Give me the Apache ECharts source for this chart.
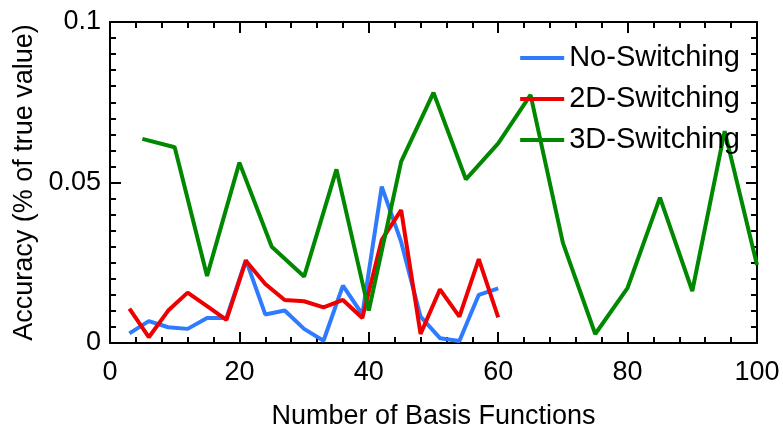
<!DOCTYPE html>
<html>
<head>
<meta charset="utf-8">
<script src="https://cdn.jsdelivr.net/npm/echarts@6/dist/echarts.min.js"></script>
<style>
  html, body { margin: 0; padding: 0; background: #fff; }
  #main { width: 783px; height: 426px; }
</style>
</head>
<body>
<div id="main"></div>
<script>
// x positions
const xNoSwitch = [3, 6, 9, 12, 15, 18, 21, 24, 27, 30, 33, 36, 39, 42, 45, 48, 51, 54, 57, 60];
const x3D = [5, 10, 15, 20, 25, 30, 35, 40, 45, 50, 55, 60, 65, 70, 75, 80, 85, 90, 95, 100];

// accuracy values (% of true value)
const noSwitching = [0.0030, 0.0068, 0.0049, 0.0044, 0.0078, 0.0078, 0.0259, 0.0089, 0.0101, 0.0044,
                     0.0007, 0.0179, 0.0089, 0.0487, 0.0315, 0.0082, 0.0015, 0.0006, 0.0150, 0.0170];
const switching2D = [0.0107, 0.0018, 0.0101, 0.0157, 0.0115, 0.0072, 0.0256, 0.0184, 0.0134, 0.0130,
                     0.0111, 0.0134, 0.0078, 0.0321, 0.0414, 0.0028, 0.0167, 0.0082, 0.0261, 0.0080];
const switching3D = [0.0636, 0.0610, 0.0209, 0.0562, 0.0300, 0.0207, 0.0541, 0.0101, 0.0565, 0.0780,
                     0.0510, 0.0622, 0.0773, 0.0312, 0.0028, 0.0172, 0.0453, 0.0162, 0.0660, 0.0243];

const seriesNames = ['No-Switching', '2D-Switching', '3D-Switching'];
const colors = ['#2f7bff', '#ee0000', '#008800'];

const font = 'Liberation Sans, Arial, sans-serif';

function pairs(xs, ys) {
    return xs.map((x, i) => [x, ys[i]]);
}

// box frame: onZero off so the top/right copies stay on the edges
const axisLine = { show: true, onZero: false, lineStyle: { color: '#000', width: 2 } };
const majorTick = { show: true, inside: true, length: 11, lineStyle: { color: '#000', width: 2 } };
const xMinor = { show: true, splitNumber: 5, length: 6, lineStyle: { color: '#000', width: 2 } };
const yMinor = { show: true, splitNumber: 10, length: 6, lineStyle: { color: '#000', width: 2 } };

const chart = echarts.init(document.getElementById('main'));

chart.setOption({
    animation: false,
    backgroundColor: '#fff',
    color: colors,
    grid: { left: 110, right: 26, top: 22, bottom: 83, containLabel: false, outerBoundsMode: 'none' },
    legend: {
        data: seriesNames.map(n => ({ name: n, icon: 'rect' })),
        orient: 'vertical',
        right: 38,
        top: 38,
        itemWidth: 44,
        itemHeight: 4,
        itemGap: 11,
        textStyle: { fontFamily: font, fontSize: 29, color: '#000', lineHeight: 30 }
    },
    xAxis: [{
        type: 'value',
        min: 0,
        max: 100,
        interval: 20,
        name: 'Number of Basis Functions',
        nameLocation: 'middle',
        nameGap: 60,
        nameTextStyle: { fontFamily: font, fontSize: 27, color: '#000' },
        axisLine: axisLine,
        axisTick: majorTick,
        minorTick: xMinor,
        axisLabel: { fontFamily: font, fontSize: 27, color: '#000', margin: 16 },
        splitLine: { show: false }
    }, {
        type: 'value',
        position: 'top',
        min: 0,
        max: 100,
        interval: 20,
        axisLine: axisLine,
        axisTick: majorTick,
        minorTick: xMinor,
        axisLabel: { show: false },
        splitLine: { show: false }
    }],
    yAxis: [{
        type: 'value',
        min: 0,
        max: 0.1,
        interval: 0.05,
        name: 'Accuracy (% of true value)',
        nameLocation: 'middle',
        nameGap: 54,
        nameTextStyle: { fontFamily: font, fontSize: 27, color: '#000' },
        axisLine: axisLine,
        axisTick: majorTick,
        minorTick: yMinor,
        axisLabel: { fontFamily: font, fontSize: 27, color: '#000', margin: 9 },
        splitLine: { show: false }
    }, {
        type: 'value',
        position: 'right',
        min: 0,
        max: 0.1,
        interval: 0.05,
        axisLine: axisLine,
        axisTick: majorTick,
        minorTick: yMinor,
        axisLabel: { show: false },
        splitLine: { show: false }
    }],
    series: [
        { name: seriesNames[0], type: 'line', data: pairs(xNoSwitch, noSwitching), symbol: 'none', lineStyle: { width: 4, color: colors[0] } },
        { name: seriesNames[1], type: 'line', data: pairs(xNoSwitch, switching2D), symbol: 'none', lineStyle: { width: 4, color: colors[1] } },
        { name: seriesNames[2], type: 'line', data: pairs(x3D, switching3D), symbol: 'none', lineStyle: { width: 4, color: colors[2] } }
    ]
});
</script>
</body>
</html>
